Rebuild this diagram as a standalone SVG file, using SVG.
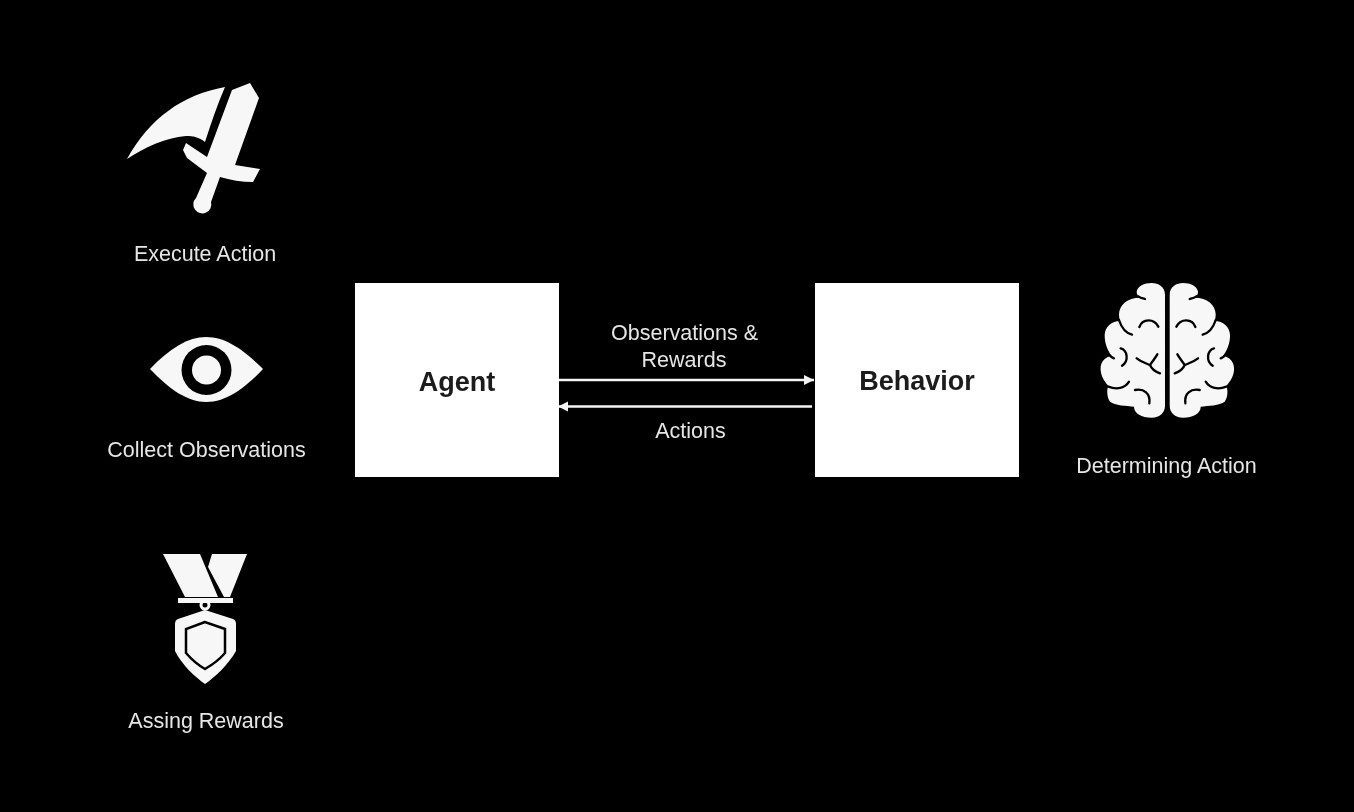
<svg xmlns="http://www.w3.org/2000/svg" width="1354" height="812" viewBox="0 0 1354 812">
<style>
.lbl{font-family:"Liberation Sans",Arial,sans-serif;font-size:21.5px;fill:#e6e6e6;text-anchor:middle}
.ttl{font-family:"Liberation Sans",Arial,sans-serif;font-size:27px;font-weight:700;fill:#1a1a1a;text-anchor:middle}
.ic{fill:#f7f7f7}
.fold{fill:none;stroke:#000;stroke-width:7;stroke-linecap:round;stroke-linejoin:round}
.box{fill:#fff}
.wire{fill:none;stroke:#f4f4f4;stroke-width:2.6}
</style>
<defs>
<filter id="soft" x="-5%" y="-5%" width="110%" height="110%"><feGaussianBlur stdDeviation="0.55"/></filter>
<marker id="head" viewBox="0 0 10 10" refX="10" refY="5" markerUnits="userSpaceOnUse" markerWidth="10" markerHeight="11" orient="auto-start-reverse"><path d="M0,0 L10,5 L0,10 Z" fill="#f4f4f4"/></marker>
<g id="halfbrain">
<path class="ic" d="M285,60 C285,35 265,24 245,24 C222,24 203,34 200,50 C200,58 204,64 210,68 C172,68 148,90 147,118 C147,125 148,132 150,138 C125,138 105,155 104,180 C104,205 112,225 125,243 C105,245 90,262 92,285 C93,302 102,318 115,332 C110,345 110,365 120,380 C135,392 170,392 192,395 C192,415 215,428 245,428 C270,428 285,412 285,392 Z"/>
<path class="fold" d="M205,64 C212,69 218,70 225,72"/>
<path class="fold" d="M118,240 C122,245 127,248 132,250"/>
<path class="fold" d="M147,135 C155,160 170,175 186,179"/>
<path class="fold" d="M208,156 C218,130 252,130 265,155"/>
<path class="fold" d="M152,220 C172,225 178,258 156,272"/>
<path class="fold" d="M200,250 C215,262 230,266 240,270 M262,238 C255,250 248,258 240,270 C245,282 255,290 270,295"/>
<path class="fold" d="M115,335 C140,345 165,340 177,320"/>
<path class="fold" d="M195,345 C222,340 242,355 238,385"/>
</g>
</defs>
<rect width="1354" height="812" fill="#000"/>
<g filter="url(#soft)">
<g id="connectors">
<path class="wire" d="M559,380 H814" marker-end="url(#head)"/>
<path class="wire" d="M812,406.500 H558" marker-end="url(#head)"/>
<text class="lbl" x="684.500" y="340">Observations &amp;</text>
<text class="lbl" x="684" y="367">Rewards</text>
<text class="lbl" x="690.500" y="438">Actions</text>
</g>
<g id="agent">
<rect class="box" x="355" y="283" width="204" height="194"/>
<text class="ttl" x="457" y="391">Agent</text>
</g>
<g id="behavior">
<rect class="box" x="815" y="283" width="204" height="194"/>
<text class="ttl" x="917" y="390">Behavior</text>
</g>
<g id="execute-action">
<path class="ic" d="M127,159 C150,118 182,95 225,87 C217,105 211,124 205,142 C199,137 193,136 186,136 C165,138 145,147 127,159 Z"/>
<path class="ic" d="M232,90 L250,83 L259,98 L235,165 L260,169 L253,182 C242,182 230,180 220,177 L211,202 A9,9 0 1 1 196,198 L207,173 L187,158 L183,150 L186,143 L207,157 Z"/>
<text class="lbl" x="205" y="261">Execute Action</text>
</g>
<g id="collect-observations">
<path class="ic" d="M150,369 C170,348 188,337 206,337 C226,337 244,350 263,369 C244,389 226,402 206,402 C188,402 170,390 150,369 Z"/>
<circle cx="206.500" cy="370" r="25" fill="#000"/>
<circle cx="206.500" cy="370" r="14.500" class="ic"/>
<text class="lbl" x="206.500" y="457">Collect Observations</text>
</g>
<g id="assign-rewards">
<path class="ic" d="M163,554 H200 L218,597 H185 Z"/>
<path class="ic" d="M212,554 H247 L230,597 H224 L208,567 Z"/>
<path class="ic" d="M178,598 H233 V603 H178 Z"/>
<circle cx="205" cy="605" r="4" fill="none" stroke="#f7f7f7" stroke-width="3"/>
<path class="ic" d="M205,610 L233,619 Q236,620 236,624 V651 C228,665 215,677 205,684 C195,677 182,665 175,651 V624 Q175,620 178,619 Z"/>
<path class="ic" d="M205,622 L186,629 V653 C192,660 198,665 205,669 C212,665 219,660 225,653 V629 Z" stroke="#000" stroke-width="2.500"/>
<text class="lbl" x="206" y="728">Assing Rewards</text>
</g>
<g id="determining-action">
<g transform="translate(1070,275) scale(0.3333)"><use href="#halfbrain"/></g>
<g transform="translate(1264.700,275) scale(-0.3333,0.3333)"><use href="#halfbrain"/></g>
<text class="lbl" x="1166.500" y="473">Determining Action</text>
</g>
</g>
</svg>
